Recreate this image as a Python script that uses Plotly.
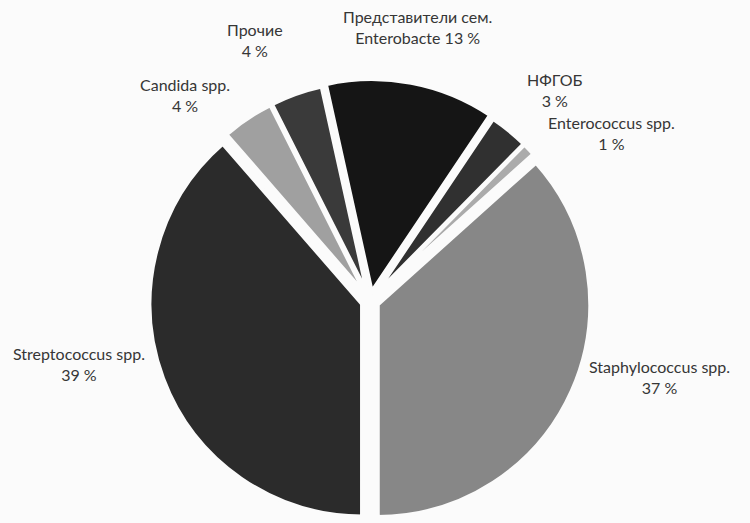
import math
import plotly.graph_objects as go

labels = ["Streptococcus spp.", "Candida spp.", "Прочие",
          "Представители сем.<br>Enterobacte", "НФГОБ",
          "Enterococcus spp.", "Staphylococcus spp."]
values = [39, 4, 4, 13, 3, 1, 37]
colors = ["#2b2b2b", "#a0a0a0", "#3a3a3a", "#151515", "#303030", "#ababab", "#878787"]
pulls = [0.04, 0.035, 0.035, 0.045, 0.035, 0.035, 0.04]

W, H = 750, 523
box_half = 222          # half size of the pie box in px
cx, cy = 370, H - box_half
start_angle = 180       # first slice starts at the bottom, goes clockwise
font_size = 16
line_h = font_size * 1.3

def label_text(lab, v):
    if "<br>" in lab:
        return f"{lab} {v} %"
    return f"{lab}<br>{v} %"

fig = go.Figure(go.Pie(
    labels=labels, values=values, sort=False, direction="clockwise", rotation=start_angle,
    textinfo="none", textposition="none",
    marker=dict(colors=colors, line=dict(color="#fbfbfb", width=4)),
    pull=pulls, showlegend=False, hoverinfo="label+value",
    domain=dict(x=[0, 2 * cx / W], y=[0, 2 * box_half / H]),
))

# outside labels placed from the data: mid-angle of each slice
R = box_half / (1 + max(pulls))
total = sum(values)
cum = 0
items = []
for lab, v in zip(labels, values):
    mid = math.radians(start_angle + (cum + v / 2) / total * 360)
    cum += v
    s, c = math.sin(mid), math.cos(mid)
    d = R * (1.12 + 0.1 * max(c, 0) ** 4)
    px, py = cx + d * s, cy - d * c
    text = label_text(lab, v)
    h = line_h * (text.count("<br>") + 1)
    xanchor = "right" if s < -0.25 else ("left" if s > 0.25 else "center")
    # vertical centre of the text block
    if c > 0.85 or c < 0:
        ymid = py - h / 2
    else:
        ymid = py
    items.append(dict(text=text, px=px, ymid=ymid, h=h, xanchor=xanchor, side=xanchor, c=c))

# resolve overlaps on the right side of the upper half: move upper label up
right = sorted([it for it in items if it["side"] == "left" and it["c"] > 0], key=lambda it: it["ymid"])
for i in range(len(right) - 1, 0, -1):
    lo, up = right[i], right[i - 1]
    need = (lo["h"] + up["h"]) / 2 + 2
    if lo["ymid"] - up["ymid"] < need:
        up["ymid"] = lo["ymid"] - need

annotations = [dict(
    x=it["px"] / W, y=1 - it["ymid"] / H, xref="paper", yref="paper",
    text=it["text"], showarrow=False, align="center",
    xanchor=it["xanchor"], yanchor="middle",
    font=dict(family="Lato, Roboto, sans-serif", size=font_size, color="#363636"),
) for it in items]

fig.update_layout(
    width=W, height=H,
    margin=dict(l=0, r=0, t=0, b=0),
    paper_bgcolor="#fbfbfb", plot_bgcolor="#fbfbfb",
    annotations=annotations,
)
fig.write_html("out.html")
